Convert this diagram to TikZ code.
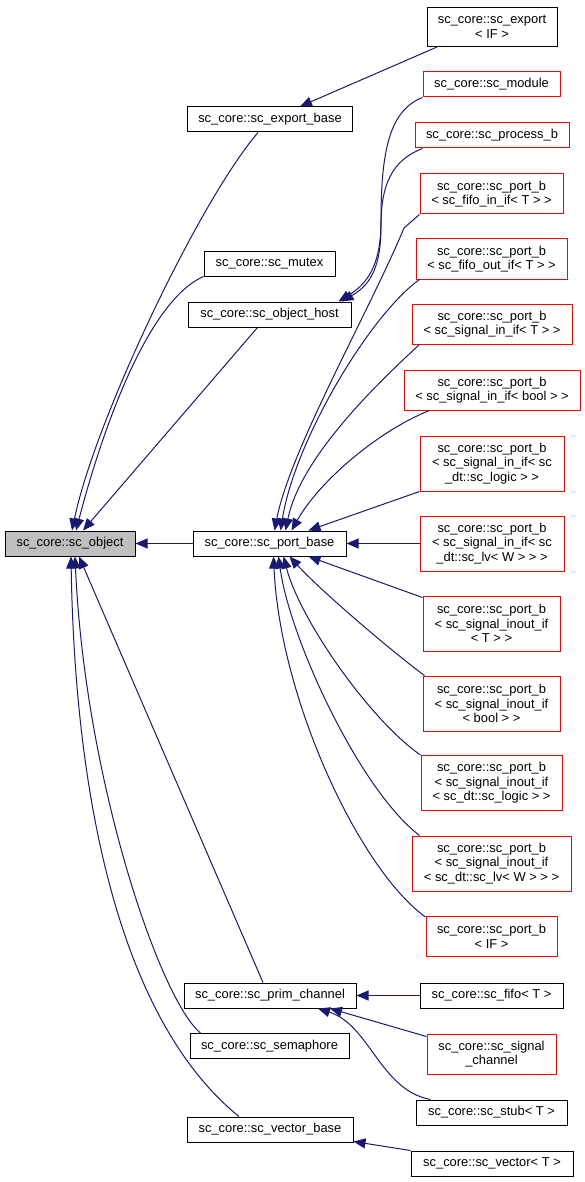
\documentclass[tikz,border=0pt]{standalone}
\usepackage{fontspec}
\setmainfont{Liberation Sans}
\usetikzlibrary{arrows.meta}
\definecolor{edgeblue}{HTML}{191970}
\definecolor{boxred}{HTML}{FF0000}
\definecolor{boxgray}{HTML}{BFBFBF}
\begin{document}
\begin{tikzpicture}[x=1pt,y=-1pt,
  box/.style={draw=black, line width=1pt, inner sep=0pt, align=center,
    font=\fontsize{12.9}{14.4}\selectfont, text=black, fill=white},
  redbox/.style={box, draw=boxred},
  edge/.style={draw=edgeblue, line width=1pt, {Triangle[length=12pt,width=10pt]}-}
]
\fill[white] (0,0) rectangle (585,1182);
\useasboundingbox (0,0) rectangle (585,1182);

% column 1
\node[box, fill=boxgray, minimum width=130pt, minimum height=25pt] (obj) at (70,543.5) {sc\_core::sc\_object};

% column 2
\node[box, minimum width=165pt, minimum height=25pt] (exb) at (270,119.5) {sc\_core::sc\_export\_base};
\node[box, minimum width=131pt, minimum height=25pt] (mutex) at (269.5,263.5) {sc\_core::sc\_mutex};
\node[box, minimum width=163pt, minimum height=25pt] (oh) at (269.5,314.5) {sc\_core::sc\_object\_host};
\node[box, minimum width=153pt, minimum height=25pt] (pb) at (269.5,543.5) {sc\_core::sc\_port\_base};
\node[box, minimum width=172pt, minimum height=25pt] (prim) at (270,995.5) {sc\_core::sc\_prim\_channel};
\node[box, minimum width=159pt, minimum height=25pt] (sem) at (269.5,1046) {sc\_core::sc\_semaphore};
\node[box, minimum width=166pt, minimum height=25pt] (vb) at (270,1129.5) {sc\_core::sc\_vector\_base};

% column 3
\node[box, minimum width=130pt, minimum height=39pt] (exif) at (492,27) {sc\_core::sc\_export\\< IF >};
\node[redbox, minimum width=137pt, minimum height=25pt] (mod) at (491.5,84.5) {sc\_core::sc\_module};
\node[redbox, minimum width=154pt, minimum height=25pt] (proc) at (492,135.5) {sc\_core::sc\_process\_b};
\node[redbox, minimum width=143pt, minimum height=40pt] (fin) at (491.5,194) {sc\_core::sc\_port\_b\\< sc\_fifo\_in\_if< T > >};
\node[redbox, minimum width=151pt, minimum height=40pt] (fout) at (491.5,259) {sc\_core::sc\_port\_b\\< sc\_fifo\_out\_if< T > >};
\node[redbox, minimum width=160pt, minimum height=40pt] (sinT) at (492,324) {sc\_core::sc\_port\_b\\< sc\_signal\_in\_if< T > >};
\node[redbox, minimum width=176pt, minimum height=40pt] (sinB) at (492,390) {sc\_core::sc\_port\_b\\< sc\_signal\_in\_if< bool > >};
\node[redbox, minimum width=144pt, minimum height=55pt] (sinL) at (492,463.5) {sc\_core::sc\_port\_b\\< sc\_signal\_in\_if< sc\\\_dt::sc\_logic > >};
\node[redbox, minimum width=144pt, minimum height=55pt] (sinV) at (492,543.5) {sc\_core::sc\_port\_b\\< sc\_signal\_in\_if< sc\\\_dt::sc\_lv< W > > >};
\node[redbox, minimum width=137pt, minimum height=55pt] (ioT) at (491.5,623.5) {sc\_core::sc\_port\_b\\< sc\_signal\_inout\_if\\< T > >};
\node[redbox, minimum width=137pt, minimum height=55pt] (ioB) at (491.5,703.5) {sc\_core::sc\_port\_b\\< sc\_signal\_inout\_if\\< bool > >};
\node[redbox, minimum width=141pt, minimum height=55pt] (ioL) at (491.5,783) {sc\_core::sc\_port\_b\\< sc\_signal\_inout\_if\\< sc\_dt::sc\_logic > >};
\node[redbox, minimum width=159pt, minimum height=55pt] (ioV) at (491.5,863.5) {sc\_core::sc\_port\_b\\< sc\_signal\_inout\_if\\< sc\_dt::sc\_lv< W > > >};
\node[redbox, minimum width=131pt, minimum height=40pt] (pIF) at (491.5,936.5) {sc\_core::sc\_port\_b\\< IF >};
\node[box, minimum width=143pt, minimum height=25pt] (fifo) at (491.5,995.5) {sc\_core::sc\_fifo< T >};
\node[redbox, minimum width=129pt, minimum height=40pt] (sig) at (491.5,1054) {sc\_core::sc\_signal\\\_channel};
\node[box, minimum width=151pt, minimum height=25pt] (stub) at (491.5,1112.5) {sc\_core::sc\_stub< T >};
\node[box, minimum width=162pt, minimum height=25pt] (vec) at (492,1163.5) {sc\_core::sc\_vector< T >};

% edges into sc_object
\draw[edge] ([xshift=2pt]obj.north) .. controls (95,420) and (200,200) .. ([xshift=-12pt]exb.south);
\draw[edge] ([xshift=6pt]obj.north) .. controls (105,420) and (150,300) .. (mutex.south west);
\draw[edge] ([xshift=13pt]obj.north) -- ([xshift=-12pt]oh.south);
\draw[edge] (obj.east) -- (pb.west);
\draw[edge] ([xshift=9pt]obj.south) -- ([xshift=-7pt]prim.north);
\draw[edge] ([xshift=5pt]obj.south) .. controls (85,780) and (160,1000) .. ([xshift=-69pt]sem.north);
\draw[edge] ([xshift=1pt]obj.south) .. controls (75,800) and (120,1020) .. ([xshift=-31pt]vb.north);

% edges into sc_export_base and sc_object_host
\draw[edge] ([xshift=30pt]exb.north) -- ([xshift=-55pt]exif.south);
\draw[edge] ([xshift=69pt]oh.north) .. controls (370,282) and (381,262) .. (381,220) .. controls (381,150) and (390,110) .. (mod.south west);
\draw[edge] ([xshift=72pt]oh.north) .. controls (372,284) and (381,265) .. (381,225) .. controls (381,185) and (392,160) .. ([xshift=8pt]proc.south west);

% edges into sc_port_base (top)
\draw[edge] ([xshift=5pt]pb.north) .. controls (290,450) and (370,310) .. (404,228) -- (fin.south west);
\draw[edge] ([xshift=11pt]pb.north) .. controls (295,440) and (370,315) .. ([xshift=4pt]fout.south west);
\draw[edge] ([xshift=16pt]pb.north) .. controls (300,460) and (370,390) .. ([xshift=8pt]sinT.south west);
\draw[edge] ([xshift=22pt]pb.north) .. controls (320,480) and (380,430) .. ([xshift=26pt]sinB.south west);
\draw[edge] ([xshift=39pt]pb.north) -- (sinL.south west);
\draw[edge] (pb.east) -- (sinV.west);

% edges into sc_port_base (bottom)
\draw[edge] ([xshift=39pt]pb.south) -- ([yshift=-2pt]ioT.north west);
\draw[edge] ([xshift=20pt]pb.south) .. controls (320,590) and (390,650) .. ([xshift=2pt]ioB.north west);
\draw[edge] ([xshift=14pt]pb.south) .. controls (300,620) and (370,720) .. (ioL.north west);
\draw[edge] ([xshift=9pt]pb.south) .. controls (290,640) and (360,790) .. ([xshift=8pt]ioV.north west);
\draw[edge] ([xshift=4pt]pb.south) .. controls (280,700) and (360,870) .. ([yshift=-1pt]pIF.north west);

% edges into sc_prim_channel
\draw[edge] (prim.east) -- (fifo.west);
\draw[edge] ([xshift=60pt]prim.south) -- ([yshift=-3pt]sig.north west);
\draw[edge] ([xshift=48pt]prim.south) .. controls (370,1025) and (380,1090) .. ([xshift=15pt]stub.north west);

% edge into sc_vector_base
\draw[edge] ([yshift=-12pt]vb.east) -- (vec.north west);
\end{tikzpicture}
\end{document}
